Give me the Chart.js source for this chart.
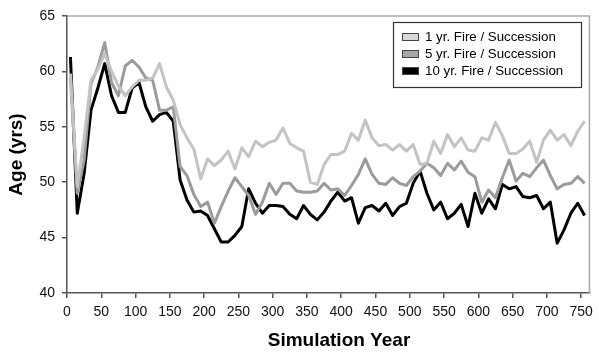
<!DOCTYPE html>
<html>
<head>
<meta charset="utf-8">
<script src="https://cdn.jsdelivr.net/npm/chart.js@4.4.0/dist/chart.umd.min.js"></script>
<style>
    html, body { margin: 0; padding: 0; background: #fff; }
    #wrap { width: 599px; height: 353px; }
</style>
</head>
<body>
<div id="wrap"><canvas id="ageChart" width="599" height="353"></canvas></div>
<script>
// Simulation years (mid-point of each 10 yr step)
const years = [5, 15, 25, 35, 45, 55, 65, 75, 85, 95,
    105, 115, 125, 135, 145, 155, 165, 175, 185, 195,
    205, 215, 225, 235, 245, 255, 265, 275, 285, 295,
    305, 315, 325, 335, 345, 355, 365, 375, 385, 395,
    405, 415, 425, 435, 445, 455, 465, 475, 485, 495,
    505, 515, 525, 535, 545, 555, 565, 575, 585, 595,
    605, 615, 625, 635, 645, 655, 665, 675, 685, 695,
    705, 715, 725, 735, 745, 755];

const oneYr = [59.8, 49.6, 54.0, 59.2, 60.2, 61.6, 60.0, 58.7, 57.8, 58.6,
    59.2, 59.2, 59.4, 60.7, 58.6, 57.4, 55.2, 54.0, 53.0, 50.3,
    52.1, 51.5, 52.0, 52.8, 51.2, 53.1, 52.3, 53.7, 53.2, 53.6,
    53.8, 54.9, 53.5, 53.1, 52.8, 50.0, 49.8, 51.6, 52.5, 52.5,
    52.8, 54.4, 53.8, 55.6, 54.0, 53.3, 53.4, 52.9, 53.4, 52.8,
    53.4, 51.6, 51.7, 53.7, 52.6, 54.3, 53.2, 54.0, 52.9, 52.8,
    54.0, 53.8, 55.4, 54.2, 52.6, 52.6, 53.0, 53.7, 51.8, 53.8,
    54.7, 53.8, 54.3, 53.3, 54.6, 55.5];

const fiveYr = [59.5, 49.0, 52.0, 58.9, 60.4, 62.6, 59.0, 57.8, 60.5, 61.0,
    60.4, 59.4, 59.2, 56.5, 56.5, 56.8, 51.4, 50.6, 48.9, 47.8,
    48.2, 46.3, 47.8, 49.2, 50.4, 49.6, 48.8, 47.1, 48.2, 49.9,
    48.9, 49.9, 49.9, 49.2, 49.1, 49.1, 49.2, 49.9, 49.3, 49.4,
    48.8, 49.7, 50.7, 52.1, 50.7, 49.9, 49.8, 50.4, 49.9, 49.7,
    50.5, 51.0, 51.7, 51.3, 50.6, 51.7, 51.1, 51.9, 50.9, 50.5,
    48.2, 49.3, 48.6, 50.4, 52.0, 50.1, 50.8, 50.5, 51.3, 52.0,
    50.6, 49.4, 49.8, 49.9, 50.5, 49.9];

const tenYr = [61.3, 47.2, 50.8, 56.5, 58.5, 60.7, 57.8, 56.3, 56.3, 58.5,
    59.0, 56.8, 55.5, 56.1, 56.3, 55.5, 50.2, 48.4, 47.3, 47.4,
    47.0, 45.8, 44.6, 44.6, 45.2, 46.0, 49.4, 48.1, 47.2, 47.9,
    47.9, 47.8, 47.1, 46.7, 47.9, 47.1, 46.6, 47.3, 48.3, 49.1,
    48.3, 48.6, 46.3, 47.7, 47.9, 47.4, 48.1, 47.0, 47.8, 48.1,
    49.9, 51.0, 49.0, 47.5, 48.2, 46.7, 47.2, 48.0, 46.0, 49.0,
    47.2, 48.5, 47.6, 49.8, 49.4, 49.6, 48.7, 48.6, 48.8, 47.6,
    48.2, 44.5, 45.7, 47.2, 48.1, 47.0];

const seriesNames = ["1 yr. Fire / Succession", "5 yr. Fire / Succession", "10 yr. Fire / Succession"];
const xTickLabels = [0, 50, 100, 150, 200, 250, 300, 350, 400, 450, 500, 550, 600, 650, 700, 750];
const yTickLabels = [40, 45, 50, 55, 60, 65];

const lineColors = ["#c3c3c3", "#9b9b9b", "#000000"];
const swatchColors = ["#d8d8d8", "#a6a6a6", "#000000"];
const FONT = '"Liberation Sans", Arial, sans-serif';

function toPoints(values) {
    return values.map((v, i) => ({ x: years[i], y: v }));
}

// gray top / right frame
const framePlugin = {
    id: "frame",
    beforeDatasetsDraw(chart) {
        const { ctx, chartArea: a } = chart;
        ctx.save();
        ctx.strokeStyle = "#a8a8a8";
        ctx.lineWidth = 1.5;
        ctx.beginPath();
        ctx.moveTo(a.left, a.top);
        ctx.lineTo(a.right, a.top);
        ctx.lineTo(a.right, a.bottom);
        ctx.stroke();
        ctx.restore();
    }
};

// legend box inside the plot + x axis title
const boxLegend = {
    id: "boxLegend",
    afterDraw(chart) {
        const ctx = chart.ctx;
        ctx.save();
        ctx.fillStyle = "#fff";
        ctx.fillRect(393, 22, 189, 66);
        ctx.strokeStyle = "#333";
        ctx.lineWidth = 1.2;
        ctx.strokeRect(393.5, 22.5, 188, 65);
        ctx.font = "13.3px " + FONT;
        ctx.textBaseline = "middle";
        chart.data.datasets.forEach((ds, i) => {
            const cy = 37 + i * 17;
            ctx.fillStyle = swatchColors[i];
            ctx.fillRect(402, cy - 3.5, 17, 7);
            ctx.strokeStyle = "#444";
            ctx.lineWidth = 1;
            ctx.strokeRect(402.5, cy - 3.5, 16, 7);
            ctx.fillStyle = "#000";
            ctx.fillText(ds.label, 425, cy);
        });

        ctx.font = "bold 19px " + FONT;
        ctx.textAlign = "center";
        ctx.fillText("Simulation Year", 339, 341);
        ctx.restore();
    }
};

new Chart(document.getElementById("ageChart").getContext("2d"), {
    type: "line",
    data: {
        datasets: [oneYr, fiveYr, tenYr].map((vals, i) => ({
            label: seriesNames[i],
            data: toPoints(vals),
            borderColor: lineColors[i],
            backgroundColor: lineColors[i],
            borderWidth: 3,
            pointRadius: 0,
            tension: 0,
            borderJoinStyle: "round",
            fill: false
        }))
    },
    options: {
        responsive: false,
        devicePixelRatio: 1,
        animation: false,
        layout: { padding: { left: 0, top: 16, right: 9, bottom: 0 } },
        plugins: {
            legend: { display: false },
            tooltip: { enabled: false }
        },
        scales: {
            x: {
                type: "linear",
                min: 0,
                max: 762,
                afterBuildTicks: (s) => { s.ticks = xTickLabels.map(v => ({ value: v })); },
                afterFit: (s) => { s.height = 60; },
                ticks: { autoSkip: false, maxRotation: 0, padding: 6, color: "#111", font: { size: 14, family: FONT } },
                grid: { drawOnChartArea: false, drawTicks: true, tickLength: 5, color: "#555", lineWidth: 1.5 },
                border: { display: true, color: "#555", width: 1.5 }
            },
            y: {
                min: 40,
                max: 65,
                afterBuildTicks: (s) => { s.ticks = yTickLabels.map(v => ({ value: v })); },
                afterFit: (s) => { s.width = 67; },
                ticks: { padding: 7, color: "#111", font: { size: 14, family: FONT } },
                grid: { drawOnChartArea: false, drawTicks: true, tickLength: 5, color: "#555", lineWidth: 1.5 },
                border: { display: true, color: "#555", width: 1.5 },
                title: {
                    display: true,
                    text: "Age (yrs)",
                    color: "#000",
                    font: { size: 19, weight: "bold", family: FONT },
                    padding: { top: 5, bottom: 0 }
                }
            }
        }
    },
    plugins: [framePlugin, boxLegend]
});
</script>
</body>
</html>
